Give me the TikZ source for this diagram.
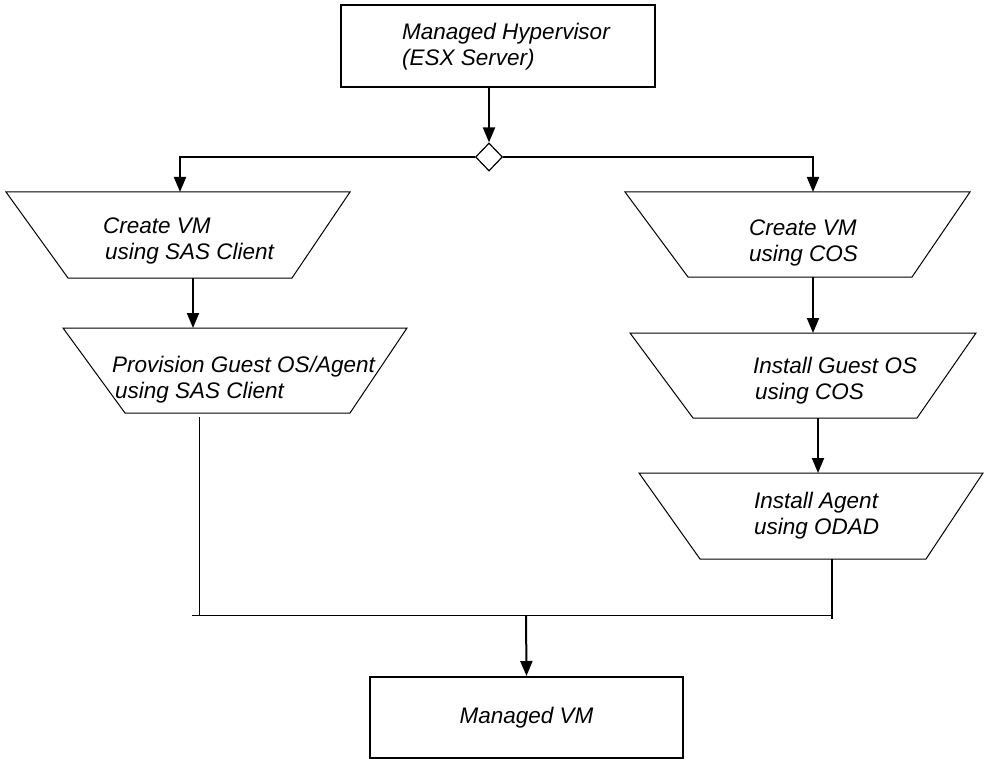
\documentclass[tikz,border=0pt]{standalone}
\usepackage{fontspec}
\setmainfont{Liberation Sans}
\usetikzlibrary{arrows.meta,shapes.geometric}
\begin{document}
\begin{tikzpicture}[x=1pt,y=-1pt,
  lbl/.style={font=\itshape\fontsize{22.5}{26}\selectfont, align=left, inner sep=0pt, anchor=west},
  boxx/.style={draw, line width=2pt, inner sep=0pt},
  trap/.style={draw, line width=1pt, line join=miter},
  arr/.style={line width=2pt, -{Triangle[length=15pt,width=12pt]}},
  thinline/.style={line width=1pt}]
\useasboundingbox (0,0) rectangle (984,759);

% top box
\node[boxx, minimum width=314pt, minimum height=82pt] (hyp) at (498,46) {};
\node[lbl] (hypt) at (402,47) {Managed Hypervisor\\(ESX Server)};

% decision diamond
\node[draw, diamond, fill=white, line width=1.2pt, minimum width=27pt, minimum height=28pt, inner sep=0pt] (dec) at (489,157) {};
\draw[arr] (dec |- hyp.south) -- (dec.north);

% connection points
\coordinate (L1in) at (180,192);
\coordinate (L1out) at (193,278);
\coordinate (L2in) at (193,328);
\coordinate (L2out) at (199,417);
\coordinate (R1in) at (813,192);
\coordinate (R1out) at (813,277);
\coordinate (R2in) at (813,333);
\coordinate (R2out) at (818,418);
\coordinate (R3in) at (818,473);
\coordinate (R3out) at (832,559);
\coordinate (R3end) at (832,619);
\coordinate (mL) at (192,615);
\coordinate (mR) at (832,615);
\coordinate (mC) at (526,615);

% trapezoids
\draw[trap] (6,192) -- (350,192) -- (292,278) -- (68,278) -- cycle;
\node[lbl] (l1t) at (103,241) {Create VM\\\hspace*{2pt}using SAS Client};
\draw[trap] (63,328) -- (407,328) -- (350,413) -- (125,413) -- cycle;
\node[lbl] (l2t) at (112,380) {Provision Guest OS/Agent\\\hspace*{3pt}using SAS Client};
\draw[trap] (625,192) -- (970,192) -- (912,277) -- (688,277) -- cycle;
\node[lbl] (r1t) at (749,243) {Create VM\\using COS};
\draw[trap] (630,333) -- (976,333) -- (917,418) -- (693,418) -- cycle;
\node[lbl] (r2t) at (753,381) {Install Guest OS\\\hspace*{2pt}using COS};
\draw[trap] (639,473) -- (983,473) -- (926,559) -- (700,559) -- cycle;
\node[lbl] (r3t) at (754,516) {Install Agent\\using ODAD};

% bottom box
\node[boxx, minimum width=313pt, minimum height=81pt, font=\itshape\fontsize{22.5}{26}\selectfont] (vm) at (526.5,717.5) {Managed VM};

% connectors
\draw[arr] (dec.west) -| (L1in);
\draw[arr] (dec.east) -| (R1in);
\draw[arr] (L1out) -- (L2in);
\draw[arr] (R1out) -- (R2in);
\draw[arr] (R2out) -- (R3in);
\draw[thinline] (L2out) -- (L2out |- mL);
\draw[thinline] (mL) -- (mR);
\draw[line width=1.4pt] (R3out) -- (R3end);
\draw[arr] (mC) -- (vm.north);
\end{tikzpicture}
\end{document}
